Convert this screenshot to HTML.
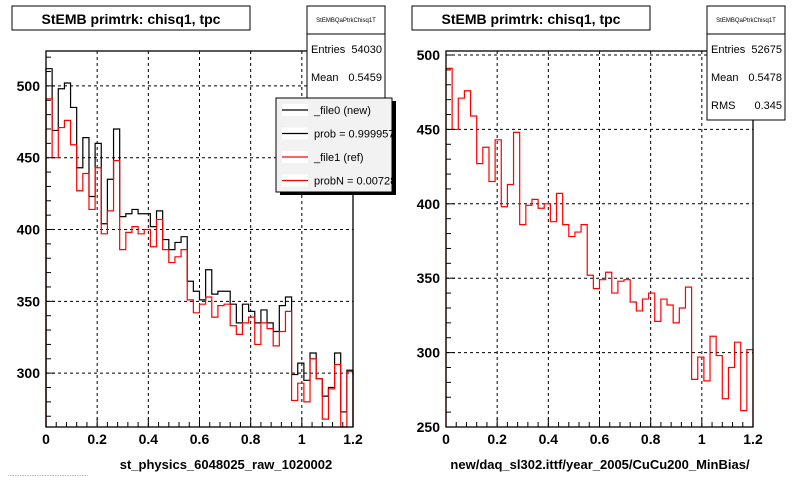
<!DOCTYPE html>
<html><head><meta charset="utf-8"><style>
html,body{margin:0;padding:0;background:#fff;}
svg{display:block;font-family:"Liberation Sans",sans-serif;}
</style></head><body>
<svg id="c" width="800" height="480" xmlns="http://www.w3.org/2000/svg"></svg>
<script>
const xTicks = ["0","0.2","0.4","0.6","0.8","1","1.2"];
const leftYTicks = [300,350,400,450,500];
const rightYTicks = [250,300,350,400,450,500];
const newLeft = [512,469,498,502,485,443,464,423,460,404,435,470,409,411,414,411,411,402,413,393,386,391,395,364,357,351,372,355,357,357,348,335,348,343,335,344,335,329,347,353,299,307,295,314,296,284,290,314,273,302];
const refLeft = [491,450,471,476,459,427,439,414,443,397,413,448,386,398,402,397,400,388,407,386,377,381,386,351,342,348,353,339,347,348,333,327,335,339,320,335,331,319,329,343,281,293,280,310,296,268,289,306,261,301];
const refRight = [491,450,471,476,459,427,438,415,443,398,413,448,386,399,403,397,400,388,407,386,378,381,386,352,343,349,354,340,348,349,334,328,336,340,321,336,332,320,330,344,282,297,281,311,298,269,290,307,261,302];

const NS="http://www.w3.org/2000/svg";
const svg=document.getElementById('c');
function mk(tag,attrs,parent){const e=document.createElementNS(NS,tag);for(const k in attrs)e.setAttribute(k,attrs[k]);(parent||svg).appendChild(e);return e;}

function panel(opt){
  const g=mk('g',{});
  
  
  const L=opt.x0,R=opt.x1,T=opt.y0,B=opt.y1;
  const sx=v=>L+(v/1.2)*(R-L);
  const sy=v=>B-(v-opt.ymin)/(opt.ymax-opt.ymin)*(B-T);
  // grid
  for(let i=1;i<6;i++){const x=sx(i*0.2);const l=mk('line',{x1:x,x2:x,y1:T,y2:B,stroke:'#000','stroke-dasharray':'3,3','stroke-width':1},g);}
  opt.yticks.forEach(v=>{const y=sy(v);if(y>T+1&&y<B-1){const l=mk('line',{x1:L,x2:R,y1:y,y2:y,stroke:'#000','stroke-dasharray':'3,3','stroke-width':1},g);}});
  // histograms
  opt.series.forEach(s=>{
    const n=s.data.length;let d='';
    for(let i=0;i<n;i++){const xa=sx(i*1.2/n),xb=sx((i+1)*1.2/n);let y=Math.min(B,Math.max(T,sy(s.data[i])));d+=(i==0?'M'+xa+','+B+' L':'L')+xa+','+y+' L'+xb+','+y+' ';}
    d+='L'+R+','+B;
    const p=mk('path',{d:d,fill:'none',stroke:s.color,'stroke-width':1.2},g);
    
    
  });
  // frame
  const f=mk('rect',{x:L,y:T,width:R-L,height:B-T,fill:'none',stroke:'#000','stroke-width':1.3},g);
  
  // x ticks
  for(let i=0;i<=30;i++){const x=sx(i*0.04);const len=(i%5==0)?9:5;mk('line',{x1:x,x2:x,y1:B,y2:B-len,stroke:'#000'},g);}
  xTicks.forEach((t,i)=>{const tx=mk('text',{x:sx(i*0.2),y:B+17,'text-anchor':'middle','font-size':14,'font-weight':'bold'},g);tx.textContent=t;});
  // y ticks
  for(let v=Math.ceil(opt.ymin/10)*10;v<=opt.ymax;v+=10){const y=sy(v);const len=(v%50==0)?9:5;mk('line',{x1:L,x2:L+len,y1:y,y2:y,stroke:'#000'},g);}
  opt.yticks.forEach(v=>{const tx=mk('text',{x:L-6,y:sy(v)+5,'text-anchor':'end','font-size':14,'font-weight':'bold'},g);tx.textContent=v;});
  const xt=mk('text',{x:opt.xtitleX,y:469,'text-anchor':'middle','font-size':13,'font-weight':'bold'},g);
  xt.textContent=opt.xtitle;
  // title box
  const tb=mk('rect',{x:opt.tx,y:6,width:238,height:24,fill:'#fff',stroke:'#000'},g);
  
  const tt=mk('text',{x:opt.tx+119,y:24,'text-anchor':'middle','font-size':14,'font-weight':'bold'},g);
  tt.textContent='StEMB primtrk: chisq1, tpc';
  // stats box
  const sb=mk('g',{},g);
  mk('rect',{x:opt.sx,y:6,width:78,height:opt.sh,fill:'#fff',stroke:'#000'},sb);
  mk('line',{x1:opt.sx,x2:opt.sx+78,y1:34,y2:34,stroke:'#000'},sb);
  const h=mk('text',{x:opt.sx+39,y:22,'text-anchor':'middle','font-size':6},sb);h.textContent='StEMBQaPtrkChisq1T';
  opt.stats.forEach((r,i)=>{const a=mk('text',{x:opt.sx+4,y:53+i*28,'font-size':11},sb);a.textContent=r[0];const b=mk('text',{x:opt.sx+75,y:53+i*28,'font-size':11,'text-anchor':'end'},sb);b.textContent=r[1];});
  return g;
}

panel({name:'left-panel',x0:46,x1:353,y0:51,y1:427,ymin:262.5,ymax:524.3,yticks:leftYTicks,
  series:[{name:'new-histogram',data:newLeft,color:'#000'},{name:'ref-histogram',data:refLeft,color:'#f00'}],
  xtitle:'st_physics_6048025_raw_1020002',xtitleX:226,tx:12,sx:307,sh:110,stats:[['Entries','54030'],['Mean','0.5459']]});
panel({name:'right-panel',x0:446,x1:753,y0:51,y1:427,ymin:250,ymax:502.7,yticks:rightYTicks,
  series:[{name:'ref-histogram',data:refRight,color:'#f00'}],
  xtitle:'new/daq_sl302.ittf/year_2005/CuCu200_MinBias/',xtitleX:600,tx:412,sx:707,sh:114,stats:[['Entries','52675'],['Mean','0.5478'],['RMS','0.345']]});

// legend
const lg=mk('g',{});


mk('rect',{x:280,y:101,width:116,height:94,fill:'#000'},lg);
mk('rect',{x:276,y:98,width:116,height:94,fill:'#f2f2f2',stroke:'#000'},lg);
[['_file0 (new)','#000'],['prob = 0.999957','#000'],['_file1 (ref)','#f00'],['probN = 0.00728','#f00']].forEach((e,i)=>{
  const y=110+i*23.5;
  const ent=mk('g',{},lg);
  
  
  mk('rect',{x:282,y:y-6,width:26,height:12,fill:'#fff'},ent);
  mk('line',{x1:282,x2:308,y1:y,y2:y,stroke:e[1],'stroke-width':1.3},ent);
  const t=mk('text',{x:314,y:y+4,'font-size':11},ent);t.textContent=e[0];
});
const ft=mk('text',{x:8,y:476,'font-size':6,fill:'#666'});
ft.textContent='................................................';


</script>
</body></html>
